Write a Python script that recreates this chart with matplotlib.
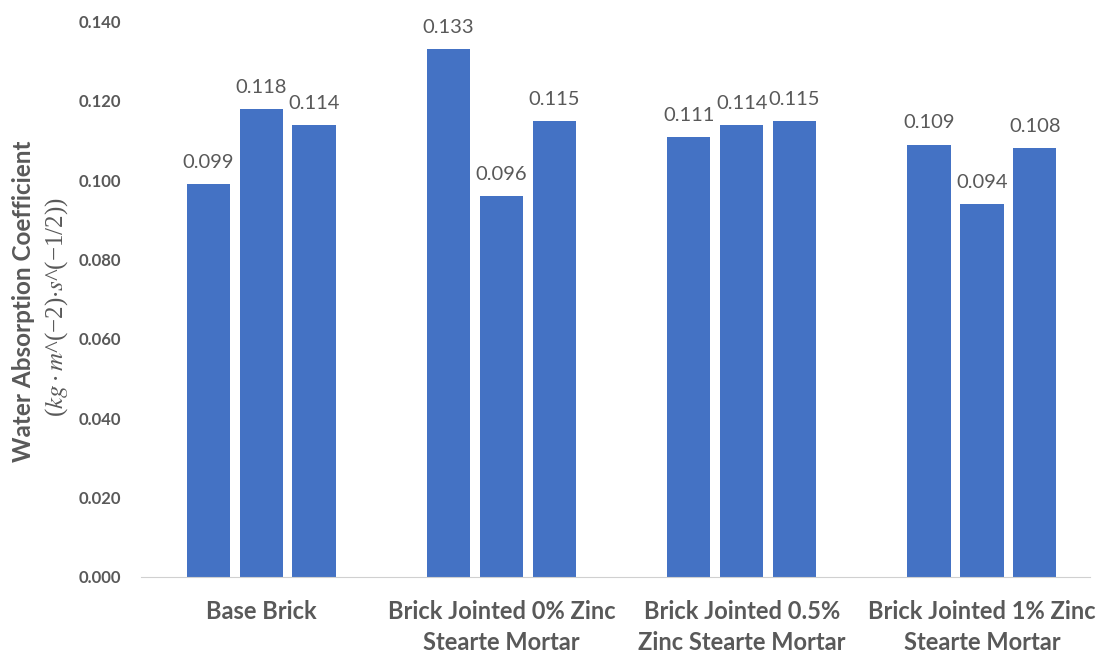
import numpy as np
import matplotlib.pyplot as plt

categories = ['Base Brick', 'Brick Jointed 0% Zinc\nStearte Mortar',
              'Brick Jointed 0.5%\nZinc Stearte Mortar', 'Brick Jointed 1% Zinc\nStearte Mortar']
sample1 = [0.099, 0.133, 0.111, 0.109]
sample2 = [0.118, 0.096, 0.114, 0.094]
sample3 = [0.114, 0.115, 0.115, 0.108]
yticks = [0.000, 0.020, 0.040, 0.060, 0.080, 0.100, 0.120, 0.140]

plt.rcParams['font.family'] = ['Lato', 'DejaVu Sans']
plt.rcParams['mathtext.fontset'] = 'stix'
grey = '#595959'
blue = '#4472C4'

fig = plt.figure(figsize=(11.02, 6.54), dpi=100)
ax = fig.add_axes([0.128, 0.118, 0.872, 0.849])

x = np.arange(len(categories))
w = 0.18
for off, vals in zip([-0.22, 0, 0.22], [sample1, sample2, sample3]):
    bars = ax.bar(x + off, vals, w, color=blue)
    for b, v in zip(bars, vals):
        ax.text(b.get_x() + b.get_width() / 2, v + 0.0033, f'{v:.3f}',
                ha='center', va='bottom', fontsize=14.5, color=grey)

ax.set_xlim(-0.5, 3.5)
ax.set_ylim(0, 0.140)
ax.set_yticks(yticks)
ax.set_yticklabels([f'{t:.3f}' for t in yticks], fontsize=12, fontweight='bold', color=grey)
ax.set_xticks(x)
ax.set_xticklabels(categories, fontsize=17, fontweight='bold', color=grey, linespacing=1.38)
ax.tick_params(axis='both', length=0)
ax.tick_params(axis='y', pad=14.5)
ax.tick_params(axis='x', pad=17)

for s in ['top', 'right', 'left']:
    ax.spines[s].set_visible(False)
ax.spines['bottom'].set_color('#d0d0d0')
ax.spines['bottom'].set_bounds(-0.5, 3.45)

fig.text(0.021, 0.54, 'Water Absorption Coefficient', rotation=90, ha='center', va='center',
         fontsize=17.5, fontweight='bold', color=grey)
fig.text(0.051, 0.53, r'($kg\cdot m$^(−2)$\cdot s$^(−1/2))', rotation=90, ha='center', va='center',
         fontsize=18, color=grey, family=['Liberation Serif', 'DejaVu Serif'])

fig.savefig('out.png', dpi=100)
